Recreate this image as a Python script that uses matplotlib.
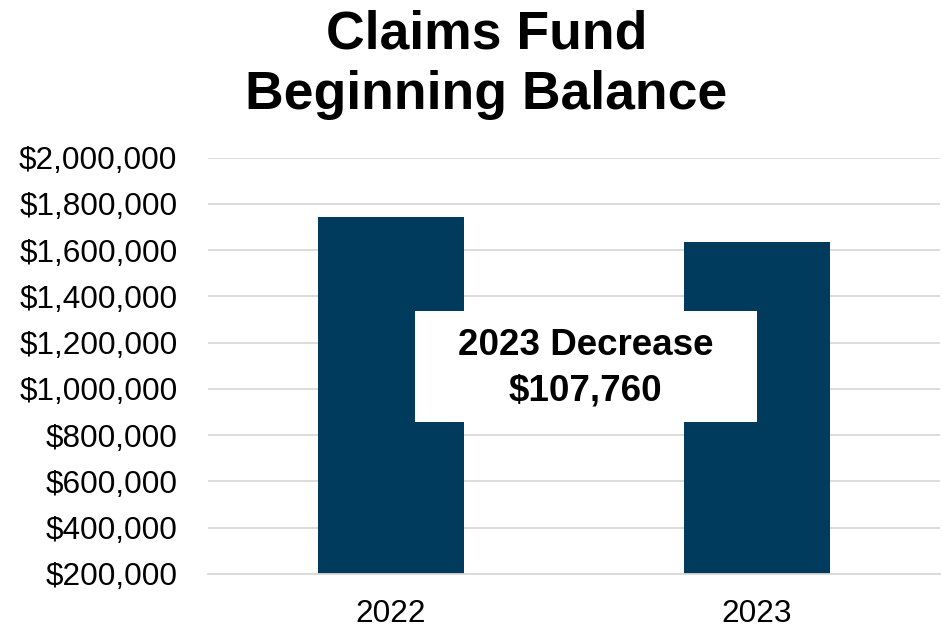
import matplotlib
matplotlib.use("Agg")
import matplotlib.pyplot as plt
from matplotlib.patches import Rectangle
from matplotlib.ticker import FuncFormatter

plt.rcParams['font.family'] = ['Liberation Sans', 'DejaVu Sans']

categories = ["2022", "2023"]
values = [1745000, 1637240]
title = "Claims Fund\nBeginning Balance"
note = "2023 Decrease\n$107,760"
yticks = [200000, 400000, 600000, 800000, 1000000, 1200000, 1400000, 1600000, 1800000, 2000000]

bar_color = "#003A5D"
grid_color = "#D9D9D9"

fig = plt.figure(figsize=(9.43, 6.28), dpi=100)
ax = fig.add_axes([0.2206, 0.086, 0.7762, 0.663])

x = list(range(len(categories)))
ax.bar(x, values, width=0.40, color=bar_color, zorder=2, bottom=0)
ax.set_xlim(-0.5, 1.5)
ax.set_ylim(200000, 2000000)
ax.set_yticks(yticks)
ax.yaxis.set_major_formatter(FuncFormatter(lambda v, p: "${:,.0f}".format(v)))
ax.set_xticks(x)
ax.set_xticklabels(categories)
ax.tick_params(axis='both', length=0, labelsize=22.7, colors='black')
ax.tick_params(axis='y', pad=22)
ax.tick_params(axis='x', pad=18)
ax.grid(axis='y', color=grid_color, linewidth=1.3, zorder=0)
for s in ['top', 'right', 'left']:
    ax.spines[s].set_visible(False)
ax.spines['bottom'].set_color(grid_color)
ax.spines['bottom'].set_linewidth(1.3)

ax.add_patch(Rectangle((0.283, 0.365), 0.467, 0.266, transform=ax.transAxes,
                       facecolor='white', edgecolor='none', zorder=3))
ax.text(0.516, 0.495, note, transform=ax.transAxes, ha='center', va='center',
        fontsize=26.5, fontweight='bold', zorder=4, linespacing=1.38)

fig.text(0.516, 0.897, title, ha='center', va='center', fontsize=38.5,
         fontweight='bold', linespacing=1.27)

fig.savefig("out.png", dpi=100)
